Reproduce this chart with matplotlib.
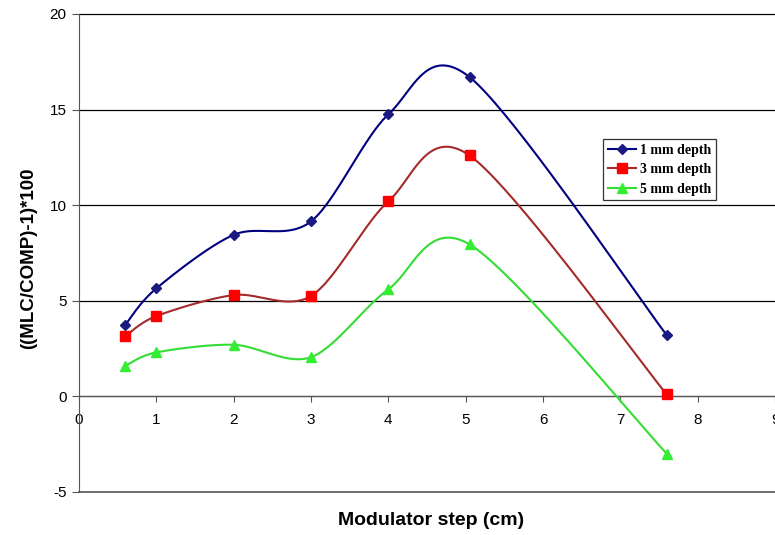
import numpy as np
import matplotlib
matplotlib.use("Agg")
import matplotlib.pyplot as plt

plt.rcParams["axes.unicode_minus"] = False

x = [0.6, 1.0, 2.0, 3.0, 4.0, 5.05, 7.6]
depth1 = [3.75, 5.65, 8.45, 9.15, 14.75, 16.7, 3.2]
depth3 = [3.15, 4.2, 5.3, 5.25, 10.2, 12.6, 0.1]
depth5 = [1.6, 2.3, 2.7, 2.05, 5.6, 7.95, -3.0]
labels = ["1 mm depth", "3 mm depth", "5 mm depth"]
xticks = list(range(0, 10))
yticks = [-5, 0, 5, 10, 15, 20]

XLIM = (0, 9)
YLIM = (-5, 20)


def excel_smooth(xs, ys, ax, n=40, k=6.5):
    # Excel-style smoothed line (Bezier with tangent control points) in display space
    pts = ax.transData.transform(np.column_stack([xs, ys]))
    P = np.vstack([pts[0], pts, pts[-1]])
    out = []
    for i in range(1, len(P) - 2):
        p0, p1, p2, p3 = P[i - 1], P[i], P[i + 1], P[i + 2]
        c1 = p1 + (p2 - p0) / k
        c2 = p2 - (p3 - p1) / k
        t = np.linspace(0, 1, n)[:, None]
        seg = ((1 - t) ** 3) * p1 + 3 * ((1 - t) ** 2) * t * c1 + 3 * (1 - t) * t ** 2 * c2 + t ** 3 * p2
        out.append(seg if i == 1 else seg[1:])
    out = np.vstack(out)
    return ax.transData.inverted().transform(out)


fig = plt.figure(figsize=(7.75, 5.35), dpi=100)
ax = fig.add_axes([0.102, 0.0804, 0.898, 0.8935])
ax.set_xlim(*XLIM)
ax.set_ylim(*YLIM)

series = [
    (depth1, "#000080", "#1a1a80", "D", 5.5),
    (depth3, "#a52a2a", "#ff0000", "s", 7.5),
    (depth5, "#33dd33", "#33ee33", "^", 7.5),
]
handles = []
for (ys, lc, mc, mk, ms), lab in zip(series, labels):
    curve = excel_smooth(x, ys, ax)
    ax.plot(curve[:, 0], curve[:, 1], color=lc, lw=1.5, zorder=3)
    ax.plot(x, ys, linestyle="none", marker=mk, markersize=ms, color=mc, zorder=4)
    h, = ax.plot([], [], color=lc, lw=1.5, marker=mk, markersize=ms, markerfacecolor=mc,
                 markeredgecolor=mc, label=lab)
    handles.append(h)

ax.set_yticks(yticks)
ax.set_xticks(xticks)
for yv in yticks[1:]:
    ax.axhline(yv, color="black", lw=0.9, zorder=1, clip_on=False)
ax.axhline(YLIM[0], color="#555555", lw=1.2, zorder=1, clip_on=False)
for s in ["top", "right"]:
    ax.spines[s].set_visible(False)
ax.spines["bottom"].set_position(("data", 0))
ax.spines["bottom"].set_color("#555555")
ax.spines["left"].set_color("#555555")
ax.tick_params(axis="x", direction="out", length=4, colors="#555555", labelcolor="black",
               labelsize=11, pad=8)
ax.tick_params(axis="y", direction="out", length=5, colors="#555555", labelcolor="black",
               labelsize=11, pad=4)
for lbl in ax.get_xticklabels() + ax.get_yticklabels():
    lbl.set_family("Liberation Sans")

ax.set_xlabel("Modulator step (cm)", fontsize=14, fontweight="bold", family="Liberation Sans")
ax.set_ylabel("((MLC/COMP)-1)*100", fontsize=13.5, fontweight="bold", family="Liberation Sans")
ax.xaxis.set_label_coords(0.506, -0.042)
ax.yaxis.set_label_coords(-0.060, 0.49)

leg = ax.legend(handles=handles, loc="upper left", bbox_to_anchor=(0.753, 0.738),
                prop={"family": "Liberation Serif", "weight": "bold", "size": 10},
                frameon=True, fancybox=False, edgecolor="black", handlelength=2.0,
                handletextpad=0.3, borderpad=0.35, labelspacing=0.45, borderaxespad=0)
leg.get_frame().set_linewidth(0.9)

fig.savefig("out.png", dpi=100)
